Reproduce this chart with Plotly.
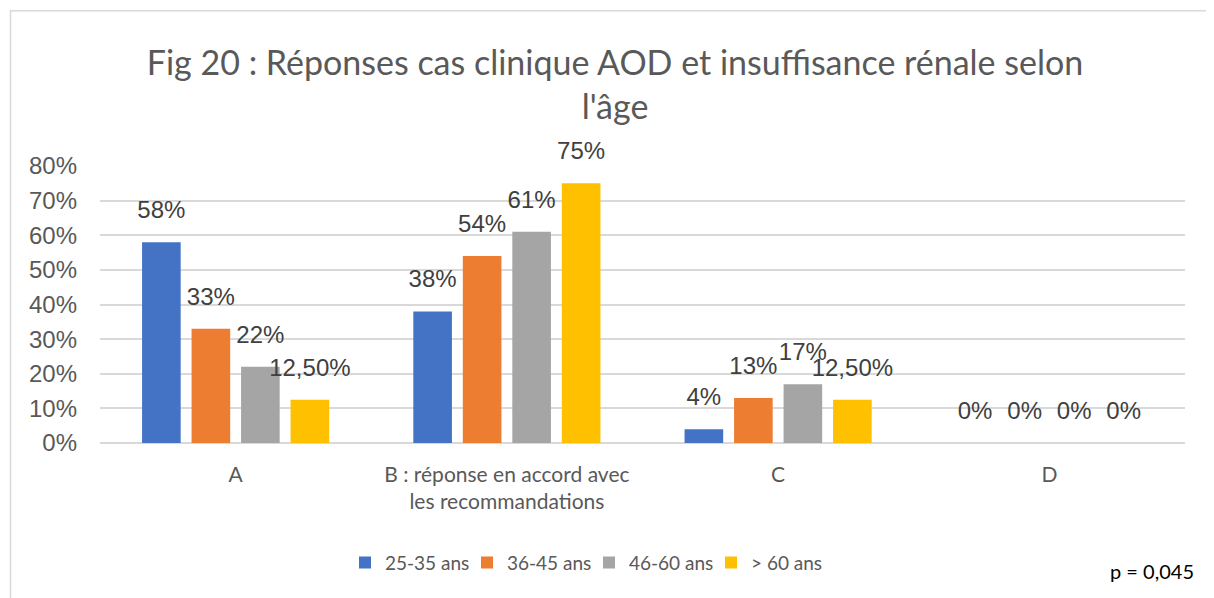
import plotly.graph_objects as go

categories = ["A", "B : réponse en accord avec<br>les recommandations", "C", "D"]
series_names = ["25-35 ans", "36-45 ans", "46-60 ans", "> 60 ans"]
values_25_35 = [58, 38, 4, 0]
values_36_45 = [33, 54, 13, 0]
values_46_60 = [22, 61, 17, 0]
values_60p = [12.5, 75, 12.5, 0]
labels_25_35 = ["58%", "38%", "4%", "0%"]
labels_36_45 = ["33%", "54%", "13%", "0%"]
labels_46_60 = ["22%", "61%", "17%", "0%"]
labels_60p = ["12,50%", "75%", "12,50%", "0%"]
colors = ["#4472C4", "#ED7D31", "#A5A5A5", "#FFC000"]
y_ticks = [0, 10, 20, 30, 40, 50, 60, 70, 80]
y_ticktext = ["0%", "10%", "20%", "30%", "40%", "50%", "60%", "70%", "80%"]

# page is offset by the default 8px body margin
OFF = 8
PAGE_W, PAGE_H = 1214, 598
W, H = PAGE_W - OFF, PAGE_H - OFF
PL, PR, PT, PB = 100, 1185, 166, 443.3   # plot area in page pixels
ML, MR, MT, MB = PL - OFF, PAGE_W - PR, PT - OFF, PAGE_H - PB
pw = PR - PL
ph = PB - PT

def px_x(x):
    return (x - PL) / pw

def px_y(y):
    return (PB - y) / ph

fig = go.Figure()
all_vals = [values_25_35, values_36_45, values_46_60, values_60p]
all_labels = [labels_25_35, labels_36_45, labels_46_60, labels_60p]
for name, vals, labs, col in zip(series_names, all_vals, all_labels, colors):
    fig.add_trace(go.Bar(
        x=categories, y=vals, name=name,
        marker=dict(color=col, line=dict(width=0)),
        text=['<span style="font-size:24px">' + l + '</span><br> ' for l in labs],
        textposition="outside",
        textfont=dict(family="Liberation Sans, Arial", size=14, color="#404040"),
        constraintext="none",
        cliponaxis=False,
        hoverinfo="skip",
    ))

fig.update_layout(
    width=W, height=H,
    margin=dict(l=ML, r=MR, t=MT, b=MB),
    paper_bgcolor="white", plot_bgcolor="white",
    barmode="group", bargap=0.27, bargroupgap=0.22,
    title=dict(
        text="Fig 20 : Réponses cas clinique AOD et insuffisance rénale selon<br>l'âge",
        x=px_x(615), xref="paper", xanchor="center",
        y=1 - 67 / H, yref="container", yanchor="middle",
        font=dict(family="Lato", size=34, color="#595959"),
    ),
    yaxis=dict(
        range=[0, 80], tickvals=y_ticks, ticktext=y_ticktext,
        showgrid=True, gridcolor="#d9d9d9", gridwidth=1.5,
        zeroline=True, zerolinecolor="#d9d9d9", zerolinewidth=1.5,
        showline=False, ticks="", ticklabelstandoff=22,
        tickfont=dict(family="Liberation Sans, Arial", size=24, color="#595959"),
    ),
    xaxis=dict(
        showgrid=False, showline=False, ticks="", ticklabelstandoff=17,
        tickfont=dict(family="Lato", size=21, color="#595959"),
    ),
    legend=dict(
        orientation="h", x=px_x(345), xanchor="left", y=px_y(563), yanchor="middle",
        font=dict(family="Lato", size=19, color="#595959"),
        traceorder="normal", entrywidth=77, entrywidthmode="pixels",
    ),
    showlegend=True,
    annotations=[dict(
        text="p = 0,045", x=px_x(1108), y=px_y(571), xref="paper", yref="paper",
        xanchor="left", yanchor="middle", showarrow=False,
        font=dict(family="Lato", size=20, color="#000000"),
    )],
    shapes=[dict(
        type="rect", xref="paper", yref="paper",
        x0=px_x(10.5), x1=px_x(1240), y0=px_y(640), y1=px_y(10.5),
        line=dict(color="#d9d9d9", width=1.5), fillcolor="rgba(0,0,0,0)", layer="below",
    )],
)

fig.write_html("out.html")
